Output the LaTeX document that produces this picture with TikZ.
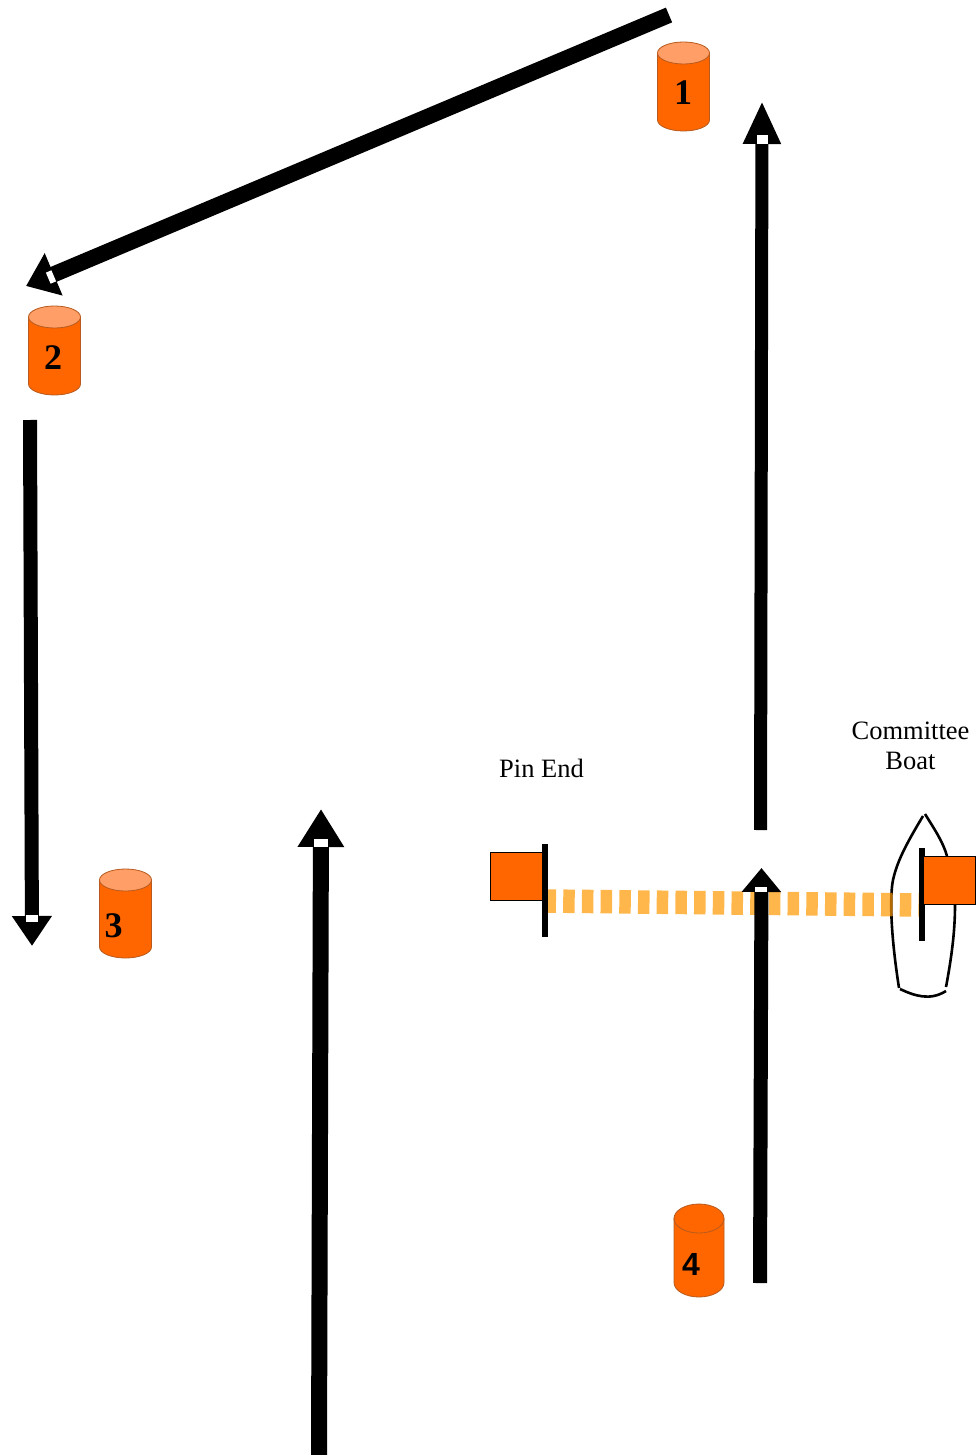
\documentclass[tikz,border=0pt]{standalone}
\usepackage{fontspec}
\setmainfont{Liberation Serif}
\setsansfont{Liberation Sans}
\usetikzlibrary{arrows.meta}

\definecolor{flagorange}{HTML}{FF6600}
\definecolor{buoytop}{HTML}{FF9E66}
\definecolor{buoyedge}{HTML}{B85A1E}
\definecolor{lineorange}{HTML}{FF9900}

\tikzset{
  course/.style n args={3}{line width=#1,-{Triangle[length=#2,width=#3]}},
  notch/.style={fill=white,inner sep=0pt},
  pics/buoy/.style n args={4}{code={
    \pgfmathsetmacro{\barrel}{#2-#3}
    \filldraw[draw=buoyedge,line width=0.8pt,fill=flagorange] (-#1,-\barrel) -- (-#1,\barrel) arc[start angle=180,end angle=360,x radius=#1pt,y radius=#3pt] -- (#1,-\barrel) -- cycle;
    \filldraw[draw=buoyedge,line width=0.8pt,fill=#4] (0,-\barrel) ellipse[x radius=#1pt,y radius=#3pt];
  }},
  flag/.style={fill=flagorange,draw=black,line width=0.9pt,inner sep=0pt,minimum width=52.5pt,minimum height=48.5pt},
  pole/.style={fill=black,inner sep=0pt,minimum width=5.5pt,minimum height=93pt},
  hull/.style={line width=2.6pt},
  number/.style={font=\fontsize{36}{36}\selectfont\bfseries},
  caption/.style={font=\fontsize{26.5}{29.5}\selectfont,align=center}
}

\begin{document}
\begin{tikzpicture}[x=1pt,y=-1pt]
\useasboundingbox (0,0) rectangle (975,1455);

% boat
\draw[hull] (923,816) .. controls (905,846) and (897,862) .. (893,880) .. controls (890,895) and (890,930) .. (899,988);
\draw[hull] (900,989) .. controls (915,996) and (930,1001) .. (946,991);
\draw[hull] (946,987) .. controls (952,955) and (955,930) .. (955,905);
\draw[hull] (925,814) .. controls (935,830) and (943,842) .. (947,856);

\coordinate (line start) at (544.5,901);
\coordinate (line end) at (921,905);
\draw[line width=23.5pt,color=lineorange,opacity=0.7,dash pattern=on 11.5pt off 7.2pt] (line start) -- (line end);

\node[flag] (pin flag) at (516.5,876.5) {};
\node[pole] (pin pole) at (545,890.5) {};
\node[pole] (boat pole) at (922,894.5) {};
\node[flag,minimum width=52pt] (boat flag) at (949,880.5) {};

\node[caption] (pin label) at (541.5,768) {Pin End};
\node[caption] (boat label) at (910.5,746) {Committee\\Boat};

% buoys
\pic (buoy 1) at (683.5,86.5) {buoy={26}{44.5}{11}{buoytop}};
\pic (buoy 2) at (54.5,350.5) {buoy={26}{44.5}{11}{buoytop}};
\pic (buoy 3) at (125.5,913.5) {buoy={26}{44.5}{11}{buoytop}};
\pic (buoy 4) at (699,1250.5) {buoy={25}{46.5}{14.5}{flagorange}};
\node[number] (num 1) at (683,93) {1};
\node[number] (num 2) at (53,358) {2};
\node[number] (num 3) at (113.5,926) {3};
\node[number,font=\fontsize{32}{32}\selectfont\sffamily\bfseries] (num 4) at (691,1264) {4};

% legs of the course
\coordinate (leg a) at (669,15);
\coordinate (leg b) at (26,286);
\coordinate (leg c) at (760.5,830);
\coordinate (leg d) at (762,101);
\coordinate (leg e) at (30,420);
\coordinate (leg f) at (32,946);
\coordinate (leg g) at (319,1455);
\coordinate (leg h) at (321,809);
\coordinate (leg i) at (760,1283);
\coordinate (leg j) at (761.5,868);

\draw[course={16pt}{30pt}{44pt}] (leg a) -- (leg b);
\draw[course={13pt}{43pt}{35pt}] (leg c) -- (leg d);
\draw[course={14pt}{30pt}{38pt}] (leg e) -- (leg f);
\draw[course={16pt}{38pt}{44pt}] (leg g) -- (leg h);
\draw[course={14pt}{24pt}{38pt}] (leg i) -- (leg j);

\node[notch,minimum width=6pt,minimum height=12pt,rotate=23] (notch a) at (51,277) {};
\node[notch,minimum width=11pt,minimum height=9pt] (notch b) at (762,139.5) {};
\node[notch,minimum width=12pt,minimum height=7pt] (notch c) at (32,918.5) {};
\node[notch,minimum width=14pt,minimum height=8pt] (notch d) at (321,843) {};
\node[notch,minimum width=12pt,minimum height=5pt] (notch e) at (761,889.5) {};
\end{tikzpicture}
\end{document}
